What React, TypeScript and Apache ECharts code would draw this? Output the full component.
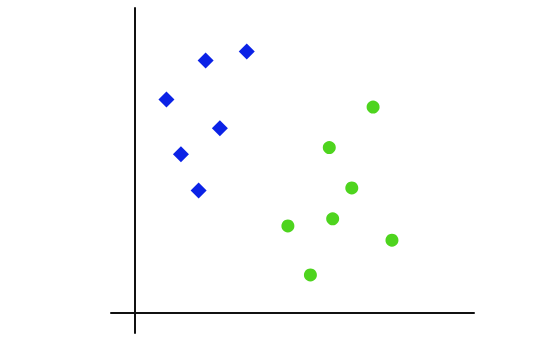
import React, { useEffect, useRef } from "react";
import * as echarts from "echarts";

const blueX = [2.91, 4.61, 1.29, 3.5, 1.89, 2.62];
const blueY = [12.41, 12.86, 10.49, 9.08, 7.8, 6.01];
const greenX = [9.83, 8.02, 8.95, 8.16, 6.31, 10.61, 7.24];
const greenY = [10.12, 8.13, 6.14, 4.62, 4.27, 3.57, 1.86];

export default function App() {
  const ref = useRef<HTMLDivElement>(null);
  useEffect(() => {
    if (!ref.current) return;
    const chart = echarts.init(ref.current, null, { renderer: "svg" });
    const axisCommon = {
      type: "value" as const,
      axisLine: { show: true, onZero: true, lineStyle: { color: "#111", width: 2 } },
      axisTick: { show: false },
      axisLabel: { show: false },
      splitLine: { show: false },
    };
    chart.setOption({
      animation: false,
      backgroundColor: "#ffffff",
      grid: { left: 111, right: 76, top: 8, bottom: 8 },
      xAxis: { ...axisCommon, min: -1, max: 14 },
      yAxis: { ...axisCommon, min: -1, max: 15 },
      series: [
        {
          type: "scatter",
          symbol: "diamond",
          symbolSize: 16,
          itemStyle: { color: "#0b22e6", opacity: 1 },
          data: blueX.map((x, i) => [x, blueY[i]]),
        },
        {
          type: "scatter",
          symbol: "circle",
          symbolSize: 13,
          itemStyle: { color: "#4ed41e", opacity: 1 },
          data: greenX.map((x, i) => [x, greenY[i]]),
        },
      ],
    });
    return () => chart.dispose();
  }, []);
  return (
    <div
      ref={ref}
      style={{ position: "absolute", left: 0, top: 0, width: 550, height: 341 }}
    />
  );
}
